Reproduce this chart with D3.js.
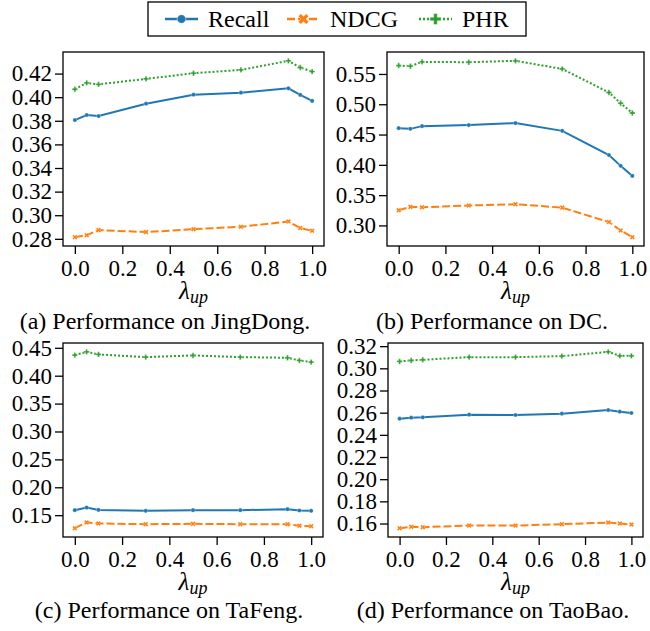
<!DOCTYPE html>
<html>
<head>
<meta charset="utf-8">
<script src="https://cdn.jsdelivr.net/npm/d3@7"></script>
<style>
body { margin: 0; background: #fff; }
</style>
</head>
<body>
<div id="chart"></div>
<script>
// lambda_up values on the x axis
const lambdas = [0, 0.05, 0.1, 0.3, 0.5, 0.7, 0.9, 0.95, 1.0];
const xTicks = [0, 0.2, 0.4, 0.6, 0.8, 1.0];
const seriesNames = ["Recall", "NDCG", "PHR"];

// (a) JingDong
const jdRecall = [0.3806, 0.3849, 0.3840, 0.3945, 0.4021, 0.4038, 0.4075, 0.4019, 0.3968];
const jdNdcg   = [0.2814, 0.2831, 0.2874, 0.2857, 0.2882, 0.2902, 0.2947, 0.2891, 0.2868];
const jdPhr    = [0.4067, 0.4121, 0.4109, 0.4155, 0.4203, 0.4231, 0.4308, 0.4251, 0.4217];
const jdTicks  = [0.28, 0.30, 0.32, 0.34, 0.36, 0.38, 0.40, 0.42];

// (b) DC
const dcRecall = [0.4606, 0.4594, 0.4639, 0.4656, 0.4689, 0.4561, 0.4161, 0.3983, 0.3817];
const dcNdcg   = [0.3250, 0.3306, 0.3300, 0.3328, 0.3350, 0.3294, 0.3056, 0.2917, 0.2806];
const dcPhr    = [0.5639, 0.5628, 0.5700, 0.5694, 0.5717, 0.5583, 0.5194, 0.5017, 0.4856];
const dcTicks  = [0.30, 0.35, 0.40, 0.45, 0.50, 0.55];

// (c) TaFeng
const tfRecall = [0.1590, 0.1637, 0.1595, 0.1578, 0.1590, 0.1590, 0.1607, 0.1584, 0.1578];
const tfNdcg   = [0.1267, 0.1369, 0.1351, 0.1339, 0.1345, 0.1339, 0.1339, 0.1309, 0.1303];
const tfPhr    = [0.4369, 0.4428, 0.4381, 0.4333, 0.4363, 0.4333, 0.4321, 0.4273, 0.4243];
const tfTicks  = [0.15, 0.20, 0.25, 0.30, 0.35, 0.40, 0.45];

// (d) TaoBao
const tbRecall = [0.2546, 0.2555, 0.2558, 0.2582, 0.2579, 0.2591, 0.2624, 0.2609, 0.2597];
const tbNdcg   = [0.1558, 0.1570, 0.1567, 0.1582, 0.1582, 0.1594, 0.1609, 0.1600, 0.1591];
const tbPhr    = [0.3062, 0.3071, 0.3077, 0.3101, 0.3101, 0.3110, 0.3149, 0.3113, 0.3113];
const tbTicks  = [0.16, 0.18, 0.20, 0.22, 0.24, 0.26, 0.28, 0.30, 0.32];

const captions = ["(a) Performance on JingDong.", "(b) Performance on DC.",
                  "(c) Performance on TaFeng.", "(d) Performance on TaoBao."];

const colors = ["#1f77b4", "#ff7f0e", "#2ca02c"];
const dashes = [null, "8,3", "2,2"];
const serif = "'Liberation Serif', 'Times New Roman', Times, 'DejaVu Serif', serif";

const width = 650, height = 631;

const svg = d3.select("#chart").append("svg")
    .attr("width", width)
    .attr("height", height);

const panels = [
    {series: [jdRecall, jdNdcg, jdPhr], ticks: jdTicks, x0: 63,  x1: 324, y0: 52,  y1: 246, capX: 165, capY: 329},
    {series: [dcRecall, dcNdcg, dcPhr], ticks: dcTicks, x0: 387, x1: 644, y0: 52,  y1: 246, capX: 492, capY: 329},
    {series: [tfRecall, tfNdcg, tfPhr], ticks: tfTicks, x0: 63,  x1: 323, y0: 343, y1: 537, capX: 169, capY: 618},
    {series: [tbRecall, tbNdcg, tbPhr], ticks: tbTicks, x0: 388, x1: 643, y0: 343, y1: 537, capX: 493, capY: 618}
];

function markerPath(i, big) {
    if (i === 0) return d3.symbol(d3.symbolCircle, big ? 60 : 14)();
    return d3.symbol(d3.symbolCross, big ? 70 : 16)();
}

panels.forEach((p, pi) => {
    const g = svg.append("g");

    const x = d3.scaleLinear().domain([-0.05, 1.05]).range([p.x0, p.x1]);
    const all = p.series.flat();
    const ext = d3.extent(all);
    const pad = (ext[1] - ext[0]) * 0.05;
    const y = d3.scaleLinear().domain([ext[0] - pad, ext[1] + pad]).range([p.y1, p.y0]);

    const xAxis = g.append("g")
        .attr("transform", `translate(0,${p.y1})`)
        .call(d3.axisBottom(x).tickValues(xTicks).tickFormat(d3.format(".1f")).tickSize(8).tickPadding(6));
    const yAxis = g.append("g")
        .attr("transform", `translate(${p.x0},0)`)
        .call(d3.axisLeft(y).tickValues(p.ticks).tickFormat(d3.format(".2f")).tickSize(8).tickPadding(3));

    [xAxis, yAxis].forEach(a => {
        a.attr("font-family", null).attr("font-size", null);
        a.select(".domain").remove();
        a.selectAll(".tick line").attr("stroke", "#000").attr("stroke-width", 1.3);
        a.selectAll("text")
            .style("font-family", serif)
            .style("font-size", "23px")
            .attr("fill", "#000");
    });

    const line = d3.line()
        .x((d, i) => x(lambdas[i]))
        .y(d => y(d));

    p.series.forEach((vals, si) => {
        g.append("path")
            .datum(vals)
            .attr("d", line)
            .attr("fill", "none")
            .attr("stroke", colors[si])
            .attr("stroke-width", 2)
            .attr("stroke-dasharray", dashes[si]);

        g.selectAll(".m" + si)
            .data(vals)
            .enter()
            .append("path")
            .attr("class", "m" + si)
            .attr("d", markerPath(si, false))
            .attr("transform", (d, i) => `translate(${x(lambdas[i])},${y(d)})` + (si === 1 ? " rotate(45)" : ""))
            .attr("fill", colors[si])
            .attr("stroke", "#fff")
            .attr("stroke-width", 0.3);
    });

    g.append("rect")
        .attr("x", p.x0).attr("y", p.y0)
        .attr("width", p.x1 - p.x0).attr("height", p.y1 - p.y0)
        .attr("fill", "none")
        .attr("stroke", "#000")
        .attr("stroke-width", 1.3);

    // x label lambda_up
    const xl = g.append("text")
        .attr("x", (p.x0 + p.x1) / 2)
        .attr("y", p.y1 + 53)
        .attr("text-anchor", "middle")
        .style("font-family", serif)
        .style("font-style", "italic")
        .style("font-size", "25px");
    xl.append("tspan").text("λ");
    xl.append("tspan").style("font-size", "18px").attr("dy", 4).text("up");

    g.append("text")
        .attr("x", p.capX)
        .attr("y", p.capY)
        .attr("text-anchor", "middle")
        .style("font-family", serif)
        .style("font-size", "24px")
        .text(captions[pi]);
});

// legend
const legend = svg.append("g");
legend.append("rect")
    .attr("x", 148).attr("y", 2)
    .attr("width", 378).attr("height", 34)
    .attr("fill", "#fff")
    .attr("stroke", "#000")
    .attr("stroke-width", 1.3);

const legX = [165, 287, 419];
seriesNames.forEach((name, i) => {
    const lx = legX[i];
    legend.append("line")
        .attr("x1", lx).attr("x2", lx + 33)
        .attr("y1", 19).attr("y2", 19)
        .attr("stroke", colors[i])
        .attr("stroke-width", 2.4)
        .attr("stroke-dasharray", dashes[i]);
    legend.append("path")
        .attr("d", markerPath(i, true))
        .attr("transform", `translate(${lx + 16.5},19)` + (i === 1 ? " rotate(45)" : ""))
        .attr("fill", colors[i])
        .attr("stroke", "#fff")
        .attr("stroke-width", 0.5);
    legend.append("text")
        .attr("x", lx + 43)
        .attr("y", 27)
        .style("font-family", serif)
        .style("font-size", "24px")
        .text(name);
});
</script>
</body>
</html>
